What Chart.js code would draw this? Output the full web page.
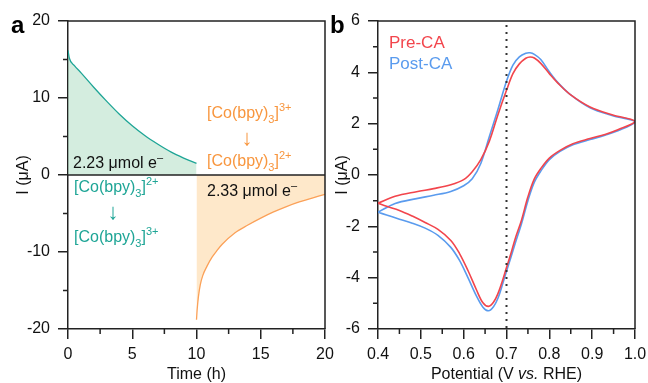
<!DOCTYPE html>
<html>
<head>
<meta charset="utf-8">
<script src="https://cdn.jsdelivr.net/npm/chart.js@4"></script>
<style>
  html, body { margin: 0; padding: 0; background: #fff; }
  #wrap { position: relative; width: 648px; height: 383px; overflow: hidden; }
  canvas { position: absolute; top: 0; }
  #ca { left: 0; }
  #cb { left: 320px; }
</style>
</head>
<body>
<div id="wrap">
  <canvas id="ca" width="340" height="383"></canvas>
  <canvas id="cb" width="328" height="383"></canvas>
</div>
<script>
// ---- panel a: chronoamperometry ----
const timeOx = [0, 0.1, 0.5, 1, 2, 3, 4, 5, 6, 7, 8, 9, 10];
const currentOx = [16.2, 15.2, 14.2, 13.3, 11.4, 9.6, 7.9, 6.4, 5.1, 4.0, 3.0, 2.2, 1.5];
const timeRed = [10, 10.05, 10.15, 10.3, 10.5, 10.8, 11.2, 11.6, 12, 13, 14, 15, 16, 17, 18, 19, 20];
const currentRed = [-18.8, -17.5, -15.8, -14.2, -13.0, -11.9, -10.7, -9.8, -9.0, -7.5, -6.5, -5.6, -4.8, -4.1, -3.5, -3.0, -2.5];
const timeMinorTicks = [2.5, 7.5, 12.5, 17.5];
const currentMinorTicksA = [-15, -5, 5, 15];

// ---- panel b: cyclic voltammetry (scan order: forward then return) ----
const scanPotential = [
  0.40, 0.44, 0.49, 0.53, 0.57, 0.60, 0.62, 0.64, 0.66, 0.68, 0.70, 0.715, 0.73, 0.745, 0.755, 0.765, 0.78, 0.80, 0.82, 0.85, 0.895, 0.95, 1.00,
  0.96, 0.93, 0.895, 0.855, 0.825, 0.80, 0.78, 0.765, 0.75, 0.735, 0.72, 0.71, 0.70, 0.69, 0.68, 0.67, 0.658, 0.645, 0.63, 0.61, 0.59, 0.57, 0.54, 0.51, 0.48, 0.45, 0.42, 0.40
];
const preCA = [
  -1.10, -0.83, -0.65, -0.53, -0.38, -0.18, 0.13, 0.60, 1.32, 2.35, 3.30, 3.95, 4.33, 4.55, 4.60, 4.56, 4.35, 3.95, 3.58, 3.12, 2.65, 2.33, 2.09,
  1.76, 1.58, 1.42, 1.22, 0.96, 0.66, 0.25, -0.15, -0.85, -1.76, -2.50, -3.08, -3.60, -4.15, -4.62, -4.95, -5.12, -4.98, -4.48, -3.72, -3.05, -2.55, -2.12, -1.85, -1.60, -1.38, -1.22, -1.10
];
const postCA = [
  -1.45, -1.11, -0.92, -0.79, -0.64, -0.42, -0.15, 0.45, 1.50, 2.55, 3.65, 4.28, 4.60, 4.74, 4.76, 4.70, 4.50, 4.02, 3.60, 3.12, 2.62, 2.30, 2.07,
  1.72, 1.55, 1.38, 1.18, 0.92, 0.60, 0.15, -0.28, -1.00, -1.90, -2.68, -3.22, -3.75, -4.30, -4.80, -5.12, -5.29, -5.15, -4.72, -4.00, -3.32, -2.82, -2.35, -2.07, -1.88, -1.72, -1.56, -1.45
];
const potentialMinorTicks = [0.45, 0.55, 0.65, 0.75, 0.85, 0.95];
const currentMinorTicksB = [-5, -3, -1, 1, 3, 5];

const FONT = '"Liberation Sans", Arial, Helvetica, sans-serif';
const AX = '#222';
const TEAL = '#1ea596';
const ORANGE = '#f8963e';
Chart.defaults.font.family = FONT;
Chart.defaults.font.size = 16;
Chart.defaults.color = '#111';

function toPts(xs, ys) { return xs.map((x, i) => ({ x: x, y: ys[i] })); }

function axis(min, max, step, fmt, isX, size) {
  return {
    type: 'linear', min: min, max: max, position: isX ? 'bottom' : 'left',
    border: { display: true, color: AX, width: 1.5 },
    grid: { drawOnChartArea: false, drawTicks: true, tickLength: 10, color: AX, lineWidth: 1.5 },
    ticks: { stepSize: step, padding: isX ? 6 : 8, color: '#111', font: { size: 16 }, callback: fmt, maxRotation: 0, autoSkip: false },
    afterFit(s) {
      if (isX) s.height = size; else s.width = size;
      s.paddingLeft = 0; s.paddingRight = 0; s.paddingTop = 0; s.paddingBottom = 0;
    }
  };
}

function richText(ctx, x, y, parts, color) {
  let cx = x;
  ctx.fillStyle = color;
  ctx.textAlign = 'left';
  ctx.textBaseline = 'alphabetic';
  parts.forEach(p => {
    ctx.font = (p.style || '') + ' ' + p.size + 'px ' + FONT;
    ctx.fillText(p.t, cx, y + (p.dy || 0));
    cx += ctx.measureText(p.t).width;
  });
  return cx - x;
}

function complex(charge) {
  return [
    { t: '[Co(bpy)', size: 16 }, { t: '3', size: 11, dy: 5 },
    { t: ']', size: 16 }, { t: charge + '+', size: 11, dy: -7 }
  ];
}
const electrons = n => [{ t: n + ' \u03bcmol e', size: 16 }, { t: '\u2013', size: 11, dy: -7 }];

function minorTicks(chart, id, values, len) {
  const s = chart.scales[id], a = chart.chartArea, ctx = chart.ctx;
  ctx.save();
  ctx.strokeStyle = AX; ctx.lineWidth = 1.5;
  ctx.beginPath();
  values.forEach(v => {
    const p = s.getPixelForValue(v);
    if (s.isHorizontal()) { ctx.moveTo(p, a.bottom); ctx.lineTo(p, a.bottom + len); }
    else { ctx.moveTo(a.left, p); ctx.lineTo(a.left - len, p); }
  });
  ctx.stroke();
  ctx.restore();
}

function frame(chart) {
  const a = chart.chartArea, ctx = chart.ctx;
  ctx.save();
  ctx.strokeStyle = AX; ctx.lineWidth = 1.5;
  ctx.beginPath();
  ctx.moveTo(a.left, a.top); ctx.lineTo(a.right, a.top); ctx.lineTo(a.right, a.bottom);
  ctx.stroke();
  ctx.restore();
}

function yTitle(ctx, x, y) {
  ctx.save();
  ctx.translate(x, y);
  ctx.rotate(-Math.PI / 2);
  ctx.font = '16px ' + FONT;
  ctx.fillStyle = '#111';
  ctx.textAlign = 'center';
  ctx.textBaseline = 'alphabetic';
  ctx.fillText('I (\u03bcA)', 0, 0);
  ctx.restore();
}

function arrow(ctx, x, y, color) {
  ctx.font = '22px ' + FONT;
  ctx.textAlign = 'center';
  ctx.fillStyle = color;
  ctx.fillText('\u2193', x, y);
}

const decorA = {
  id: 'decorA',
  afterDatasetsDraw(chart) {
    const ctx = chart.ctx, a = chart.chartArea, y = chart.scales.y;
    ctx.save();
    ctx.strokeStyle = AX; ctx.lineWidth = 1.5;
    ctx.beginPath();
    ctx.moveTo(a.left, y.getPixelForValue(0)); ctx.lineTo(a.right, y.getPixelForValue(0));
    ctx.stroke();
    ctx.restore();
  },
  afterDraw(chart) {
    const ctx = chart.ctx;
    frame(chart);
    minorTicks(chart, 'x', timeMinorTicks, 5);
    minorTicks(chart, 'y', currentMinorTicksA, 5);
    ctx.save();
    ctx.font = 'bold 24px ' + FONT; ctx.fillStyle = '#000';
    ctx.fillText('a', 11, 33);
    yTitle(ctx, 28, 175);
    ctx.font = '16px ' + FONT; ctx.fillStyle = '#111'; ctx.textAlign = 'center';
    ctx.fillText('Time (h)', (chart.chartArea.left + chart.chartArea.right) / 2, 379);
    richText(ctx, 73, 168, electrons('2.23'), '#111');
    richText(ctx, 207, 196, electrons('2.33'), '#111');
    richText(ctx, 74, 192, complex('2'), TEAL);
    richText(ctx, 74, 242, complex('3'), TEAL);
    richText(ctx, 207, 118, complex('3'), ORANGE);
    richText(ctx, 207, 166, complex('2'), ORANGE);
    arrow(ctx, 113, 219, TEAL);
    arrow(ctx, 247, 145, ORANGE);
    ctx.restore();
  }
};

const OXB = 320;
const decorB = {
  id: 'decorB',
  afterDatasetsDraw(chart) {
    const ctx = chart.ctx, a = chart.chartArea, x = chart.scales.x;
    const px = x.getPixelForValue(0.7);
    ctx.save();
    ctx.strokeStyle = '#333'; ctx.lineWidth = 2; ctx.setLineDash([2, 5]);
    ctx.beginPath(); ctx.moveTo(px, a.top + 4); ctx.lineTo(px, a.bottom); ctx.stroke();
    ctx.restore();
  },
  afterDraw(chart) {
    const ctx = chart.ctx;
    frame(chart);
    minorTicks(chart, 'x', potentialMinorTicks, 5);
    minorTicks(chart, 'y', currentMinorTicksB, 5);
    ctx.save();
    ctx.font = 'bold 24px ' + FONT; ctx.fillStyle = '#000';
    ctx.fillText('b', 330 - OXB, 33);
    yTitle(ctx, 347 - OXB, 175);
    // x title with italic "vs."
    const parts = [{ t: 'Potential (V ', size: 16 }, { t: 'vs.', size: 16, style: 'italic' }, { t: ' RHE)', size: 16 }];
    let w = 0;
    parts.forEach(p => { ctx.font = (p.style || '') + ' 16px ' + FONT; w += ctx.measureText(p.t).width; });
    const cx = (chart.chartArea.left + chart.chartArea.right) / 2;
    richText(ctx, cx - w / 2, 379, parts, '#111');
    richText(ctx, 389 - OXB, 48, [{ t: 'Pre-CA', size: 17 }], '#f2454c');
    richText(ctx, 389 - OXB, 69, [{ t: 'Post-CA', size: 17 }], '#5a9bee');
    ctx.restore();
  }
};

new Chart(document.getElementById('ca'), {
  type: 'scatter',
  data: {
    datasets: [
      { data: toPts(timeOx, currentOx), showLine: true, borderColor: TEAL, borderWidth: 1.3,
        backgroundColor: 'rgba(160, 216, 185, 0.45)', fill: 'origin', pointRadius: 0, cubicInterpolationMode: 'monotone' },
      { data: toPts(timeRed, currentRed), showLine: true, borderColor: '#fba158', borderWidth: 1.3,
        backgroundColor: 'rgba(253, 214, 158, 0.55)', fill: 'origin', pointRadius: 0, cubicInterpolationMode: 'monotone' }
    ]
  },
  options: {
    responsive: false, animation: false,
    layout: { padding: { left: 0, right: 15, top: 21, bottom: 0 } },
    plugins: { legend: { display: false }, tooltip: { enabled: false } },
    scales: {
      x: axis(0, 20, 5, v => String(v), true, 54),
      y: axis(-20, 20, 10, v => String(v), false, 68)
    }
  },
  plugins: [decorA]
});

new Chart(document.getElementById('cb'), {
  type: 'scatter',
  data: {
    datasets: [
      { label: 'Pre-CA', data: toPts(scanPotential, preCA), showLine: true, borderColor: '#f2454c', borderWidth: 1.6,
        pointRadius: 0, tension: 0.35, fill: false },
      { label: 'Post-CA', data: toPts(scanPotential, postCA), showLine: true, borderColor: '#5a9bee', borderWidth: 1.6,
        pointRadius: 0, tension: 0.35, fill: false }
    ]
  },
  options: {
    responsive: false, animation: false,
    layout: { padding: { left: 0, right: 13, top: 21, bottom: 0 } },
    plugins: { legend: { display: false }, tooltip: { enabled: false } },
    scales: {
      x: axis(0.4, 1.0, 0.1, v => Number(v).toFixed(1), true, 54),
      y: axis(-6, 6, 2, v => String(Math.round(v)), false, 58)
    }
  },
  plugins: [decorB]
});
</script>
</body>
</html>
